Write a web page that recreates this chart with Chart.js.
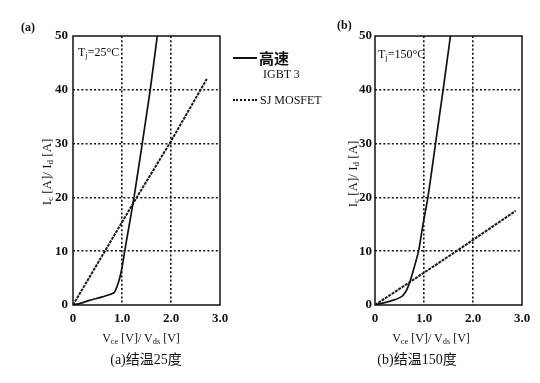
<!DOCTYPE html>
<html>
<head>
<meta charset="utf-8">
<script src="https://cdn.jsdelivr.net/npm/chart.js@4/dist/chart.umd.min.js"></script>
<style>
  html, body { margin:0; padding:0; background:#fff; }
  #wrap { position:relative; width:540px; height:383px; overflow:hidden; background:#fff;
          font-family:"Liberation Serif","DejaVu Serif",serif; color:#111; }
  canvas { position:absolute; left:0; top:0; }
  .t { position:absolute; white-space:nowrap; line-height:1; color:#111; }
  .t sub { font-size:70%; vertical-align:-0.25em; line-height:0; }
  .cap { font-family:"Liberation Serif","Noto Sans CJK SC",serif; font-size:14px; }
  .yt { width:90px; height:14px; text-align:center; font-size:13px; line-height:14px;
        transform-origin:45px 7px; transform:rotate(-90deg); }
  .xt { width:120px; text-align:center; font-size:12px; }
</style>
</head>
<body>
<div id="wrap">
  <canvas id="ca" width="540" height="383"></canvas>
  <canvas id="cb" width="540" height="383"></canvas>

  <div class="t" style="left:21px;top:21px;font-size:12px;font-weight:bold;">(a)</div>
  <div class="t" style="left:337px;top:19px;font-size:12px;font-weight:bold;">(b)</div>

  <div class="t" style="left:78px;top:46px;font-size:12px;">T<sub>j</sub>=25°C</div>
  <div class="t" style="left:378px;top:48px;font-size:12px;">T<sub>j</sub>=150°C</div>

  <div class="t yt" style="left:2px;top:165px;">I<sub>c</sub> [A]/ I<sub>d</sub> [A]</div>
  <div class="t yt" style="left:308px;top:167px;">I<sub>c</sub> [A]/ I<sub>d</sub> [A]</div>

  <div class="t xt" style="left:81px;top:332px;">V<sub>ce</sub> [V]/ V<sub>ds</sub> [V]</div>
  <div class="t xt" style="left:371px;top:332px;">V<sub>ce</sub> [V]/ V<sub>ds</sub> [V]</div>

  <div class="t cap" style="left:146px;top:353px;transform:translateX(-50%);">(a)结温25度</div>
  <div class="t cap" style="left:417px;top:353px;transform:translateX(-50%);">(b)结温150度</div>

  <!-- legend -->
  <div style="position:absolute;left:233px;top:57px;width:24px;border-top:2px solid #111;"></div>
  <div class="t" style="left:259px;top:50px;font-size:15px;font-family:'Noto Sans CJK SC',sans-serif;font-weight:bold;">高速</div>
  <div class="t" style="left:263px;top:68px;font-size:12px;">IGBT 3</div>
  <div style="position:absolute;left:233px;top:99px;width:24px;border-top:2px dotted #111;"></div>
  <div class="t" style="left:260px;top:94px;font-size:12px;">SJ MOSFET</div>
</div>

<script>
// ---- data ----
const xTicks = [0, 1.0, 2.0, 3.0];
const yTicks = [0, 10, 20, 30, 40, 50];

const igbt25X = [0, 0.15, 0.35, 0.6, 0.84, 0.92, 0.98, 1.02, 1.055, 1.15, 1.245, 1.413, 1.576, 1.72];
const igbt25Y = [0, 0.3, 0.9, 1.5, 2.3, 4, 6, 8, 10, 15, 20, 30, 40, 50];
const mos25X  = [0, 0.65, 1.3, 1.97, 2.73];
const mos25Y  = [0, 10, 20, 30, 42];

const igbt150X = [0, 0.18, 0.38, 0.55, 0.63, 0.68, 0.72, 0.8, 0.89, 0.98, 1.08, 1.235, 1.39, 1.54];
const igbt150Y = [0, 0.4, 0.9, 1.6, 2.5, 3.5, 4.5, 7, 10, 15, 20, 30, 40, 50];
const mos150X  = [0, 0.7, 1.66, 2.87];
const mos150Y  = [0, 4.2, 10, 17.5];

function pts(xs, ys) { return xs.map((x, i) => ({ x: x, y: ys[i] })); }

const boxPlugin = {
  id: 'box',
  afterDatasetsDraw(chart) {
    const a = chart.chartArea, ctx = chart.ctx;
    ctx.save();
    ctx.strokeStyle = '#111';
    ctx.lineWidth = 1.5;
    ctx.setLineDash([]);
    ctx.strokeRect(a.left, a.top, a.right - a.left, a.bottom - a.top);
    ctx.restore();
  }
};

function makeChart(id, igbt, mos, yWidth, padRight, yPad) {
  const gridColor = (ctx, lo, hi) => {
    const v = ctx.tick && ctx.tick.value;
    return (v > lo && v < hi) ? '#111' : 'rgba(0,0,0,0)';
  };
  return new Chart(document.getElementById(id), {
    type: 'scatter',
    data: {
      datasets: [
        { label: '高速 IGBT 3', data: igbt, showLine: true, borderColor: '#111', borderWidth: 1.7,
          pointRadius: 0, tension: 0.15, fill: false },
        { label: 'SJ MOSFET', data: mos, showLine: true, borderColor: '#1a1a1a', borderWidth: 2,
          borderDash: [3, 1], pointRadius: 0, tension: 0, fill: false }
      ]
    },
    options: {
      responsive: false,
      animation: false,
      events: [],
      layout: { padding: { left: 0, right: padRight, top: 36, bottom: 48 } },
      plugins: { legend: { display: false }, tooltip: { enabled: false } },
      scales: {
        x: {
          type: 'linear', min: 0, max: 3,
          afterBuildTicks: (s) => { s.ticks = xTicks.map(v => ({ value: v })); },
          afterFit: (s) => { s.height = 30; },
          ticks: {
            padding: 6, color: '#111',
            font: { family: 'Liberation Serif', size: 13, weight: 'bold' },
            callback: (v) => v === 0 ? '0' : Number(v).toFixed(1)
          },
          grid: { drawTicks: false, lineWidth: 1.6, color: (c) => gridColor(c, 0, 3) },
          border: { display: false, dash: [2, 2.2] }
        },
        y: {
          type: 'linear', min: 0, max: 50,
          afterBuildTicks: (s) => { s.ticks = yTicks.map(v => ({ value: v })); },
          afterFit: (s) => { s.width = yWidth; },
          ticks: {
            padding: yPad, color: '#111',
            font: { family: 'Liberation Serif', size: 13, weight: 'bold' },
            callback: (v) => String(v)
          },
          grid: { drawTicks: false, lineWidth: 1.6, color: (c) => gridColor(c, 0, 50) },
          border: { display: false, dash: [2, 2.2] }
        }
      }
    },
    plugins: [boxPlugin]
  });
}

makeChart('ca', pts(igbt25X, igbt25Y), pts(mos25X, mos25Y), 73, 320, 5);
makeChart('cb', pts(igbt150X, igbt150Y), pts(mos150X, mos150Y), 375, 18, 3);
</script>
</body>
</html>
